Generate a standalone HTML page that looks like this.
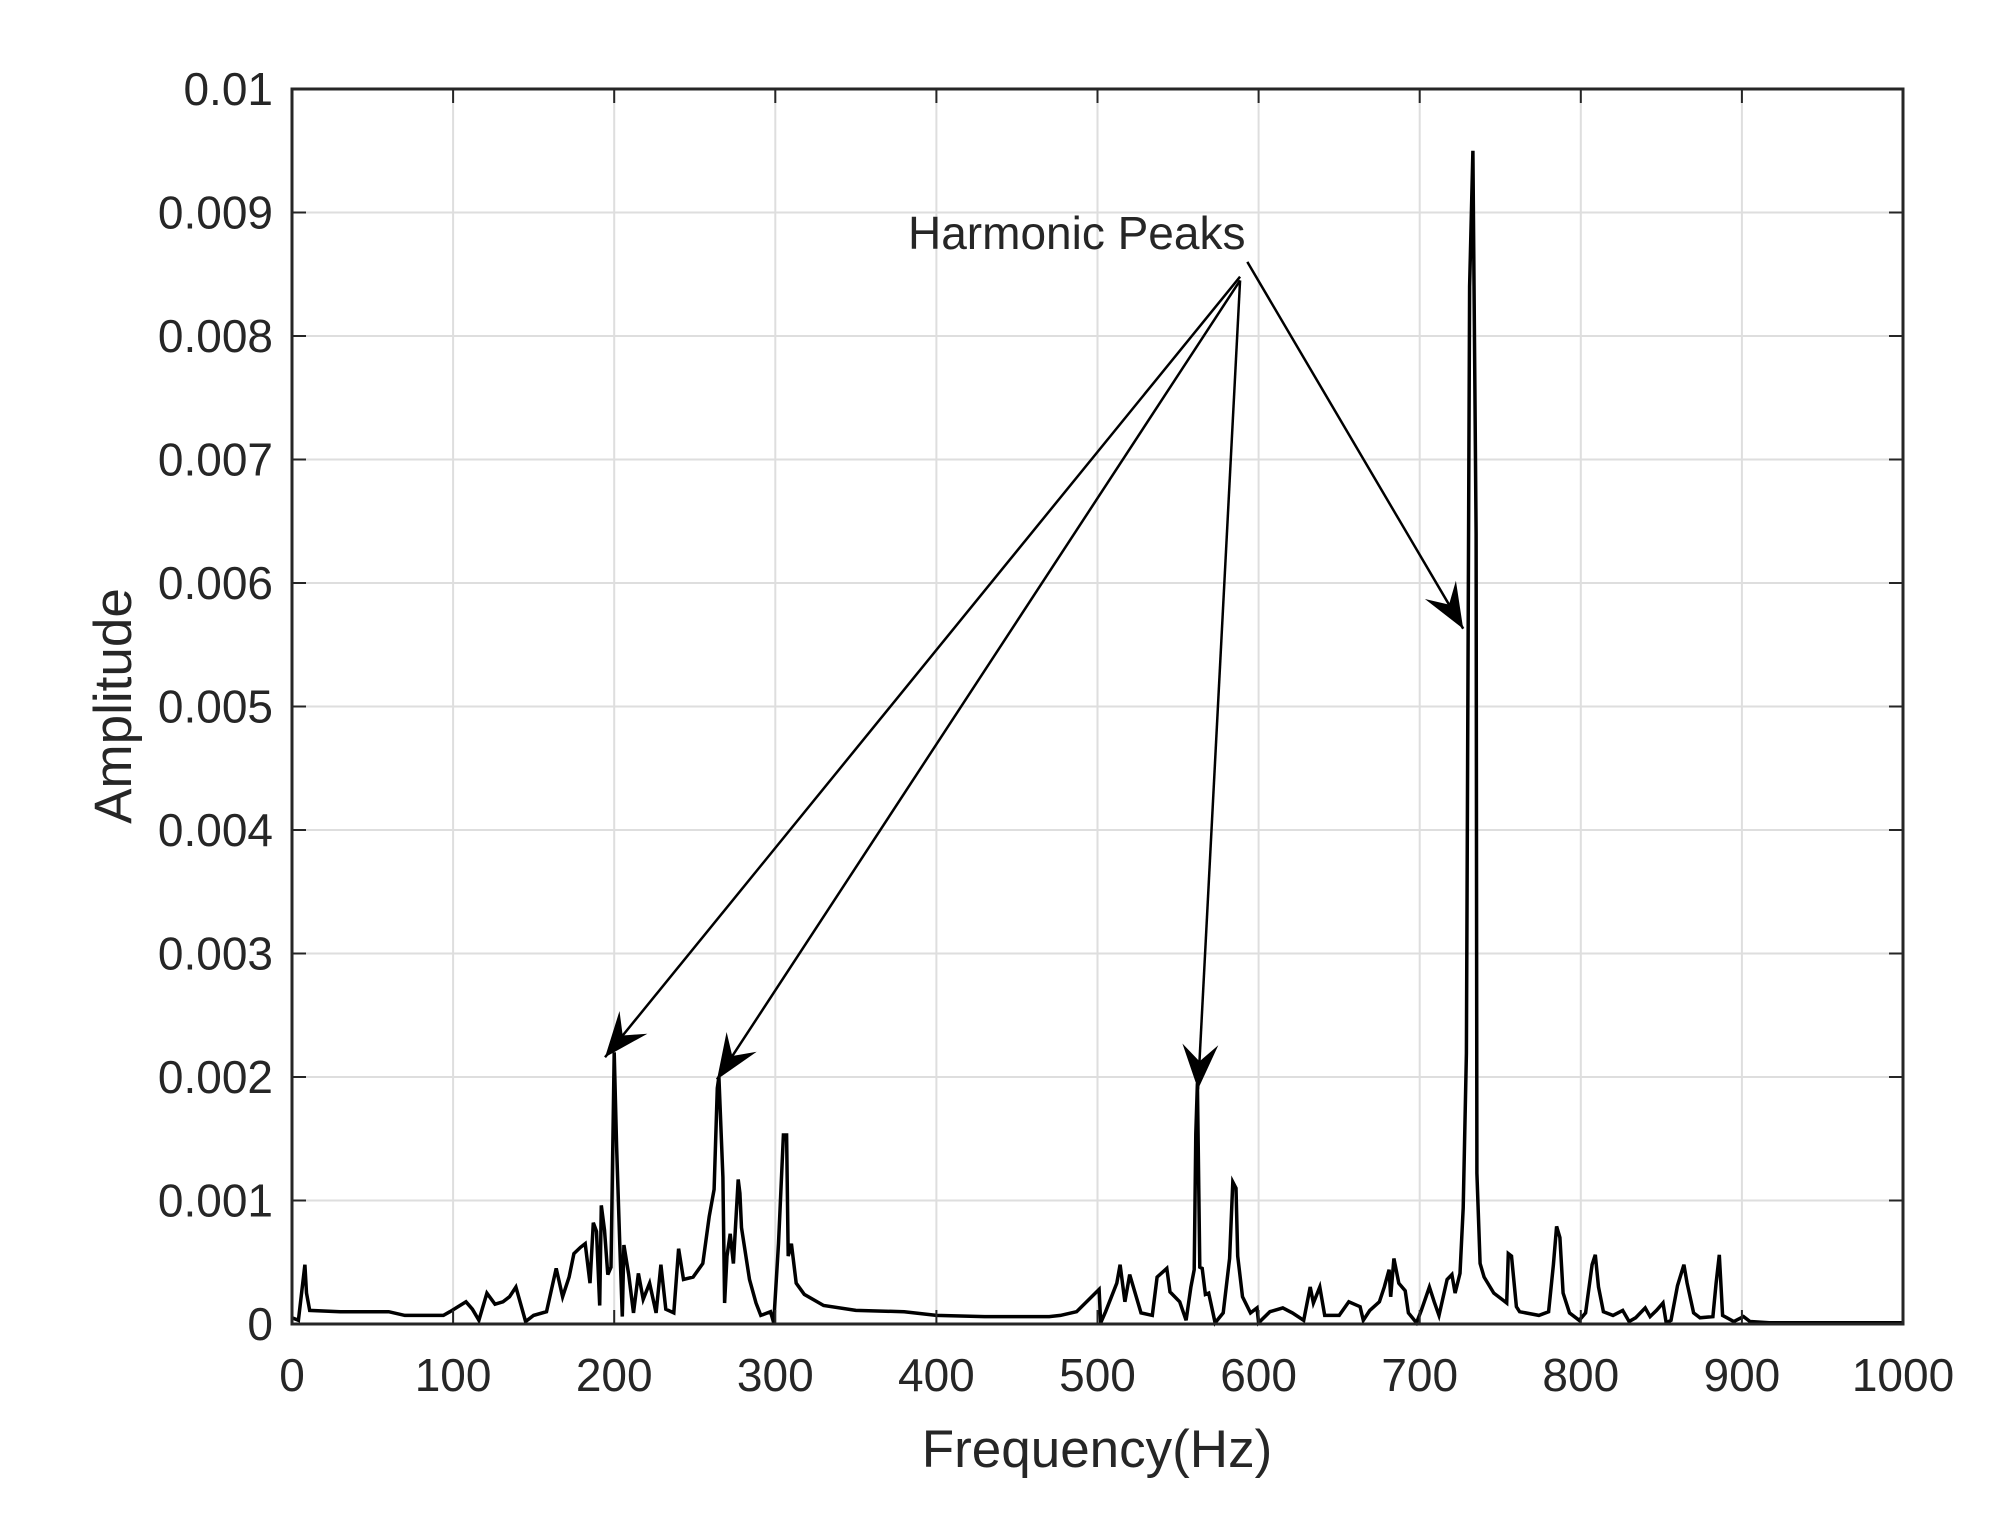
<!DOCTYPE html>
<html><head><meta charset="utf-8"><style>
html,body{margin:0;padding:0;background:#fff;}
svg{display:block;}
text{font-family:"Liberation Sans",Arial,sans-serif;fill:#262626;}
</style></head><body>
<svg id="chart" width="2012" height="1517" viewBox="0 0 2012 1517" xmlns="http://www.w3.org/2000/svg">
<rect width="2012" height="1517" fill="#fff"/>
<g id="grid"></g>
<g id="series"></g>
<g id="annot"></g>
<g id="axes"></g>
</svg>
<script>
const xTicks = [0,100,200,300,400,500,600,700,800,900,1000];
const yTicks = [0,0.001,0.002,0.003,0.004,0.005,0.006,0.007,0.008,0.009,0.01];
const yTickLabels = ["0","0.001","0.002","0.003","0.004","0.005","0.006","0.007","0.008","0.009","0.01"];
const freqs = [0,4,8,9,11,30,60,70,94,98,108,112,116,121,126,131,135,139,145,150,158,164,168,172,175,179,182,185,187,189,191,192,194,196,198,199,200,201.5,203.5,205,206,209,212,215,218,222,226,229,232,237,240,243,249,255,259,262,264,265,267.5,268.5,270,272,274,277,278,279,284,288,291,297,299,302,305,307,308,310,313,318,330,350,380,400,430,470,477,487,501,502,505,512,514,517,520,527,534,537,543,545,551,555,558,560,561,562,563.5,565,567,569,573,578,582,584,586,587,590,595,599,600,607,615,621,628,632,634,638,641,650,656,663,665,669,675,678,681,682,684,687,691,693,698,701,706,709,712,717,720,722,725,727,729,731,733,735,735.5,737.5,740,746,752,754,755,757,760,762,774,780,783,785,787,789,793,799,803,807,809,811,814,820,826,830,834,840,843,847,851,853,856,860,864,866,870,874,882,884,886,888,895,901,905,917,946,1000];
const amps = [0.00005,0.00003,0.00048,0.00025,0.00011,0.0001,0.0001,0.00007,0.00007,0.0001,0.00018,0.00012,0.00003,0.00025,0.00016,0.00018,0.00022,0.0003,0.00002,0.00007,0.0001,0.00045,0.00022,0.00038,0.00057,0.00062,0.00065,0.00033,0.00082,0.00075,0.00015,0.00096,0.00076,0.0004,0.00046,0.00133,0.0022,0.00144,0.00064,0.00006,0.00064,0.0004,0.00009,0.00041,0.0002,0.00033,0.00009,0.00048,0.00012,0.00009,0.00061,0.00036,0.00038,0.00049,0.00087,0.00109,0.00191,0.002,0.00119,0.00017,0.00055,0.00073,0.00049,0.00117,0.00106,0.00078,0.00036,0.00017,0.00007,0.0001,0.00001,0.00065,0.00153,0.00153,0.00055,0.00065,0.00033,0.00024,0.00015,0.00011,0.0001,0.00007,0.00006,0.00006,0.00007,0.0001,0.00028,0.00001,0.0001,0.00033,0.00048,0.00018,0.0004,0.00009,0.00007,0.00038,0.00045,0.00026,0.00018,0.00003,0.0003,0.00044,0.00154,0.00195,0.00046,0.00045,0.00024,0.00025,0.00001,0.00009,0.00053,0.00115,0.0011,0.00055,0.00022,0.00009,0.00013,0.00001,0.0001,0.00013,0.00009,0.00003,0.0003,0.00017,0.0003,0.00007,0.00007,0.00018,0.00014,0.00003,0.00011,0.00018,0.0003,0.00044,0.00022,0.00053,0.00033,0.00027,0.00009,0.00001,0.00011,0.0003,0.00018,0.00007,0.00036,0.0004,0.00025,0.00041,0.00094,0.00219,0.0084,0.0095,0.0064,0.00122,0.00049,0.00038,0.00025,0.00019,0.00017,0.00057,0.00055,0.00014,0.0001,0.00007,0.0001,0.00048,0.00079,0.0007,0.00025,0.00009,0.00003,0.00009,0.00048,0.00056,0.0003,0.0001,0.00007,0.00011,0.00002,0.00005,0.00013,0.00006,0.00011,0.00017,0.00001,0.00003,0.00031,0.00048,0.00033,0.00009,0.00005,0.00006,0.00033,0.00056,0.00007,0.00002,0.00006,0.00002,0.00001,0.00001,0.00001];
const arrowStartF = [588.5,588.5,588.5,593];
const arrowStartA = [0.00848,0.00845,0.00845,0.0086];
const arrowEndF = [194.3,263.8,562.4,727];
const arrowEndA = [0.00216,0.00198,0.0019,0.00563];

const NS="http://www.w3.org/2000/svg";
const X0=292,X1=1903,Y0=1324,Y1=89;
const xs=f=>X0+(f-0)/(1000-0)*(X1-X0);
const ys=a=>Y0-(a-0)/(0.01-0)*(Y0-Y1);
function mk(tag,attrs,parent){const e=document.createElementNS(NS,tag);for(const k in attrs)e.setAttribute(k,attrs[k]);parent.appendChild(e);return e;}
const grid=document.getElementById('grid'),axes=document.getElementById('axes'),series=document.getElementById('series'),annot=document.getElementById('annot');
xTicks.forEach((t,i)=>{
  const x=xs(t);
  const g=mk('line',{x1:x,x2:x,y1:Y1,y2:Y0,stroke:'#dedede','stroke-width':2},grid);
  
  
  mk('line',{x1:x,x2:x,y1:Y0,y2:Y0-14,stroke:'#262626','stroke-width':2},axes);
  mk('line',{x1:x,x2:x,y1:Y1,y2:Y1+14,stroke:'#262626','stroke-width':2},axes);
  const tx=mk('text',{x:x,y:1391,'font-size':46,'text-anchor':'middle'},axes);
  tx.textContent=String(t);
  
  
});
yTicks.forEach((t,i)=>{
  const y=ys(t);
  const g=mk('line',{x1:X0,x2:X1,y1:y,y2:y,stroke:'#dedede','stroke-width':2},grid);
  
  
  mk('line',{x1:X0,x2:X0+14,y1:y,y2:y,stroke:'#262626','stroke-width':2},axes);
  mk('line',{x1:X1,x2:X1-14,y1:y,y2:y,stroke:'#262626','stroke-width':2},axes);
  const tx=mk('text',{x:273,y:y+16,'font-size':46,'text-anchor':'end'},axes);
  tx.textContent=yTickLabels[i];
  
  
});
const box=mk('rect',{x:X0,y:Y1,width:X1-X0,height:Y0-Y1,fill:'none',stroke:'#262626','stroke-width':3},axes);


const xl=mk('text',{x:1097,y:1467,'font-size':53,'text-anchor':'middle'},axes);
xl.textContent='Frequency(Hz)';


const yl=mk('text',{x:0,y:0,'font-size':53,'text-anchor':'middle',transform:'translate(131,706) rotate(-90)'},axes);
yl.textContent='Amplitude';


let d='';
freqs.forEach((f,i)=>{d+=(i?'L':'M')+xs(f).toFixed(1)+' '+ys(amps[i]).toFixed(1);});
const p=mk('path',{d:d,fill:'none',stroke:'#000','stroke-width':3.5,'stroke-linejoin':'miter'},series);


const lab=mk('text',{x:908,y:249,'font-size':46},annot);
lab.textContent='Harmonic Peaks';


arrowEndF.forEach((f,i)=>{
  const sx=xs(arrowStartF[i]),sy=ys(arrowStartA[i]),ex=xs(f),ey=ys(arrowEndA[i]);
  const l=mk('line',{x1:sx,y1:sy,x2:ex,y2:ey,stroke:'#000','stroke-width':2.5},annot);
  
  
  const ang=Math.atan2(ey-sy,ex-sx),c=Math.cos(ang),s=Math.sin(ang);
  const L=45,W=18,N=28;
  const pt=(a,b)=>(ex+a*c-b*s).toFixed(1)+','+(ey+a*s+b*c).toFixed(1);
  const h=mk('polygon',{points:[pt(0,0),pt(-L,-W),pt(-N,0),pt(-L,W)].join(' '),fill:'#000'},annot);
  
  
});
</script>
</body></html>
